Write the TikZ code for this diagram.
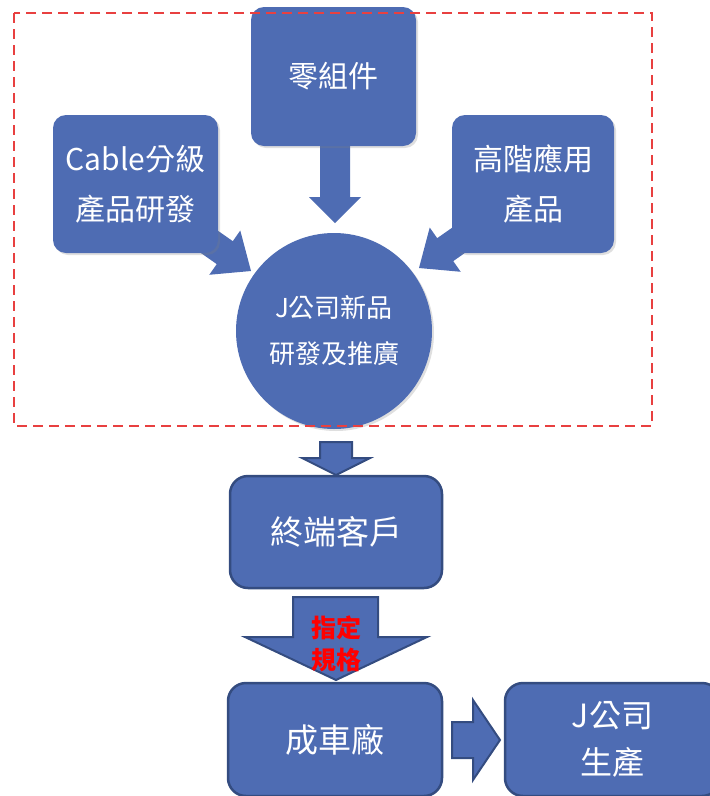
\documentclass[tikz,border=0pt]{standalone}
\usepackage{fontspec}
\newfontfamily\cjk{Noto Sans CJK TC}
\usetikzlibrary{shadows}
\definecolor{boxblue}{RGB}{78,108,179}
\definecolor{boxedge}{RGB}{52,76,128}
\definecolor{dashred}{RGB}{232,64,64}
\begin{document}
\begin{tikzpicture}[x=1pt,y=-1pt,
  topbox/.style={fill=boxblue, rounded corners=13pt, inner sep=0pt, text=white, align=center,
    drop shadow={opacity=0.25,shadow xshift=2pt,shadow yshift=-2pt}},
  lowbox/.style={fill=boxblue, draw=boxedge, line width=2.5pt, rounded corners=18pt, inner sep=0pt, text=white, align=center},
  lowarrow/.style={fill=boxblue, draw=boxedge, line width=2pt, line join=miter}]
\clip (0,0) rectangle (710,796);
% arrows into the circle (behind boxes)
\begin{scope}[shift={(251,271)}, rotate=-35]
  \fill[boxblue] (0,0) -- (-32,27) -- (-32,14) -- (-95,14) -- (-95,-14) -- (-32,-14) -- (-32,-27) -- cycle;
\end{scope}
\begin{scope}[shift={(419,268)}, rotate=-145]
  \fill[boxblue] (0,0) -- (-32,27) -- (-32,14) -- (-95,14) -- (-95,-14) -- (-32,-14) -- (-32,-27) -- cycle;
\end{scope}
\fill[boxblue] (320,140) -- (350,140) -- (350,197) -- (361,197) -- (335,223) -- (309,197) -- (320,197) -- cycle;
% top boxes
\node[topbox, minimum width=165pt, minimum height=139pt, font={\cjk\fontsize{30}{50}\selectfont}] (parts) at (333.5,76.5) {零組件};
\node[topbox, minimum width=165pt, minimum height=138pt, font={\cjk\fontsize{30}{50}\selectfont}] (cable) at (135.5,184) {Cable分級\\產品研發};
\node[topbox, minimum width=162pt, minimum height=138pt, font={\cjk\fontsize{30}{50}\selectfont}] (high) at (533,184) {高階應用\\產品};
\node[topbox, circle, minimum size=196pt, font={\cjk\fontsize{26}{46}\selectfont}] (jnew) at (334,331) {J公司新品\\研發及推廣};
% dashed frame
\draw[dashred, line width=1.5pt, dash pattern=on 10pt off 6pt] (14,13) rectangle (652,426);
% lower arrows
\draw[lowarrow] (320,442) -- (352,442) -- (352,458) -- (370,458) -- (336,475) -- (302,458) -- (320,458) -- cycle;
\node[lowbox, minimum width=212pt, minimum height=112pt, font={\cjk\fontsize{33}{40}\selectfont}] (endc) at (336,532) {終端客戶};
\draw[lowarrow] (293,597) -- (378,597) -- (378,637) -- (427,637) -- (336,680) -- (245,637) -- (293,637) -- cycle;
\node[text=red, align=center, font={\cjk\bfseries\fontsize{25}{32}\selectfont}] (spec) at (336,644) {指定\\規格};
\node[lowbox, minimum width=214pt, minimum height=113pt, font={\cjk\fontsize{33}{40}\selectfont}] (oem) at (335,739.5) {成車廠};
\draw[lowarrow] (452,722) -- (473,722) -- (473,700) -- (500,740) -- (473,780) -- (473,758) -- (452,758) -- cycle;
\node[lowbox, minimum width=215pt, minimum height=113pt, font={\cjk\fontsize{32}{47}\selectfont}] (jprod) at (612.5,739.5) {J公司\\生產};
\end{tikzpicture}
\end{document}
